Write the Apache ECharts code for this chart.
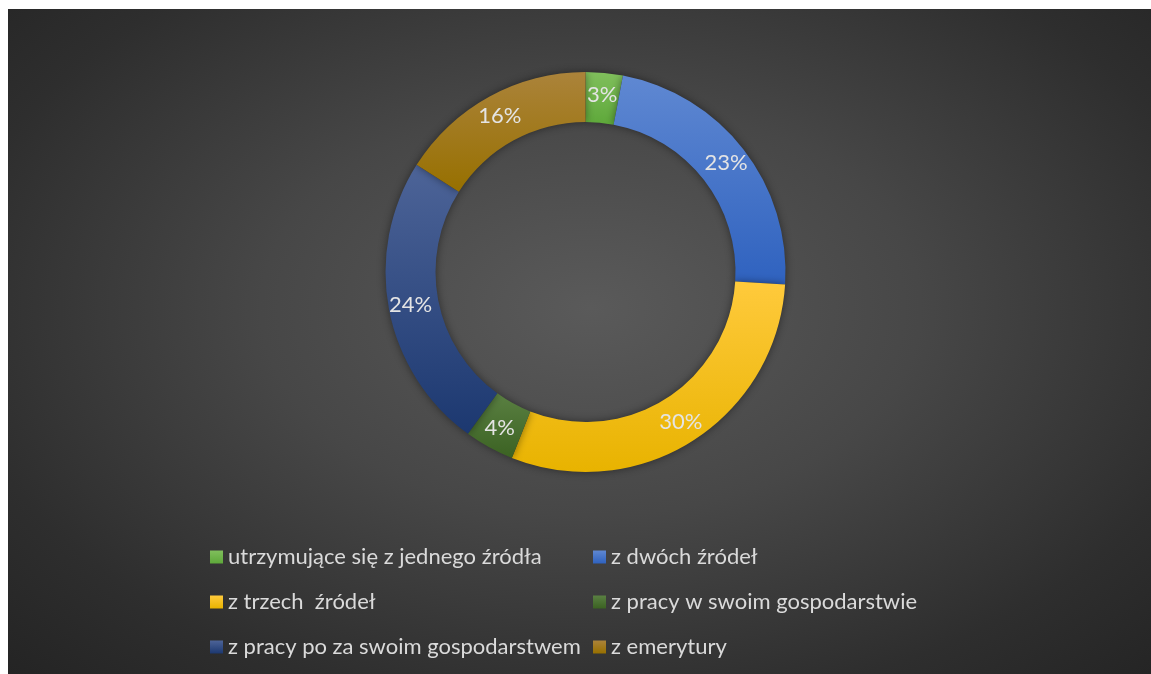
<!DOCTYPE html>
<html>
<head>
<meta charset="utf-8">
<script src="https://cdn.jsdelivr.net/npm/echarts@6/dist/echarts.min.js"></script>
<style>
  html, body { margin: 0; padding: 0; background: #ffffff; }
  #chart {
    position: absolute;
    left: 8px;
    top: 9px;
    width: 1143px;
    height: 665px;
    background: radial-gradient(ellipse farthest-corner at 51% 45%, #5a5a5a 0%, #474747 40%, #2e2e2e 78%, #242424 100%);
  }
</style>
</head>
<body>
<div id="chart"></div>
<script>
  // data
  var categories = [
    'utrzymujące się z jednego źródła',
    'z dwóch źródeł',
    'z trzech  źródeł',
    'z pracy w swoim gospodarstwie',
    'z pracy po za swoim gospodarstwem',
    'z emerytury'
  ];
  var shares = [3, 23, 30, 4, 24, 16];

  // slice colours: light top -> darker bottom
  var topColors = ['#80bf5c', '#5f88d2', '#ffca3c', '#5a8042', '#4d6498', '#ab833a'];
  var bottomColors = ['#5ea83a', '#2f62bf', '#e8b300', '#3b6222', '#1c3870', '#977000'];

  var chart = echarts.init(document.getElementById('chart'));

  var seriesData = categories.map(function(name, i) {
    return {
      name: name,
      value: shares[i],
      itemStyle: {
        color: {
          type: 'linear', x: 0, y: 0, x2: 0, y2: 1,
          colorStops: [
            { offset: 0, color: topColors[i] },
            { offset: 1, color: bottomColors[i] }
          ]
        }
      }
    };
  });

  var legendText = {
    color: '#dadada',
    fontSize: 22,
    fontFamily: 'Lato, "Open Sans", sans-serif',
    lineHeight: 22
  };

  function legendColumn(left, names) {
    return {
      orient: 'vertical',
      left: left,
      top: 532,
      itemWidth: 13,
      itemHeight: 13,
      itemGap: 23,
      itemTextGap: 7,
      icon: 'rect',
      data: names,
      textStyle: legendText
    };
  }

  var option = {
    backgroundColor: 'transparent',
    color: topColors,
    legend: [
      legendColumn(197, [categories[0], categories[2], categories[4]]),
      legendColumn(580, [categories[1], categories[3], categories[5]])
    ],
    series: [{
      type: 'pie',
      center: [577.5, 263],
      radius: [150, 200],
      startAngle: 90,
      clockwise: true,
      avoidLabelOverlap: false,
      silent: true,
      itemStyle: {
        borderWidth: 0,
        shadowBlur: 8,
        shadowColor: 'rgba(0,0,0,0.45)'
      },
      label: {
        show: true,
        position: 'inside',
        formatter: '{c}%',
        color: '#e4e4e4',
        fontSize: 22,
        fontFamily: 'Lato, "Open Sans", sans-serif'
      },
      labelLine: { show: false },
      data: seriesData
    }]
  };

  chart.setOption(option);
</script>
</body>
</html>
